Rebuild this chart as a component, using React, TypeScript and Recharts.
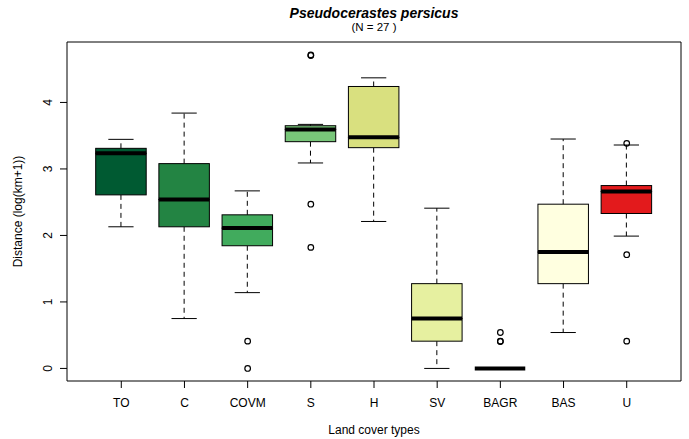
import { ComposedChart, Bar, Scatter, XAxis, YAxis } from "recharts"

// land cover types on the x axis
const categories = ["TO", "C", "COVM", "S", "H", "SV", "BAGR", "BAS", "U"]

// five-number summaries (log(km+1))
const whiskerLow = [2.13, 0.75, 1.14, 3.09, 2.21, 0.0, 0.0, 0.54, 1.99]
const quart1 = [2.61, 2.13, 1.845, 3.41, 3.32, 0.41, 0.0, 1.275, 2.33]
const medians = [3.235, 2.54, 2.11, 3.595, 3.475, 0.75, 0.0, 1.75, 2.66]
const quart3 = [3.31, 3.08, 2.31, 3.65, 4.24, 1.275, 0.0, 2.47, 2.75]
const whiskerHigh = [3.445, 3.84, 2.67, 3.67, 4.37, 2.41, 0.0, 3.45, 3.36]
const outliers: number[][] = [
  [],
  [],
  [0.41, 0.0],
  [4.715, 4.705, 2.47, 1.82],
  [],
  [],
  [0.54, 0.41, 0.405],
  [],
  [3.385, 1.71, 0.41],
]
const yTicks = [0, 1, 2, 3, 4]

const palette = ["#005a32", "#238443", "#41ab5d", "#78c679", "#d9e07f", "#e6f0a0", "#ffffe0", "#ffffe0", "#e31a1c"]
const FONT = '"Liberation Sans", Arial, Helvetica, sans-serif'
const MAX_OUT = 4

const data = categories.map((name, i) => {
  const row: Record<string, string | number | null> = {
    name,
    base: whiskerLow[i],
    wLow: quart1[i] - whiskerLow[i],
    bLow: medians[i] - quart1[i],
    bHigh: quart3[i] - medians[i],
    wHigh: whiskerHigh[i] - quart3[i],
  }
  for (let k = 0; k < MAX_OUT; k++) row["o" + k] = outliers[i][k] ?? null
  return row
})

function span(p: any) {
  const top = Math.min(p.y, p.y + p.height)
  const bot = Math.max(p.y, p.y + p.height)
  return { top, bot, cx: p.x + p.width / 2 }
}

function LowWhisker(p: any) {
  const { top, bot, cx } = span(p)
  return (
    <g>
      <line x1={cx} x2={cx} y1={top} y2={bot} stroke="#000" strokeDasharray="5 4" />
      <line x1={cx - p.width / 4} x2={cx + p.width / 4} y1={bot} y2={bot} stroke="#000" />
    </g>
  )
}

function HighWhisker(p: any) {
  const { top, bot, cx } = span(p)
  return (
    <g>
      <line x1={cx} x2={cx} y1={bot} y2={top} stroke="#000" strokeDasharray="5 4" />
      <line x1={cx - p.width / 4} x2={cx + p.width / 4} y1={top} y2={top} stroke="#000" />
    </g>
  )
}

function LowerBox(p: any) {
  const { top, bot } = span(p)
  return <rect x={p.x} y={top} width={p.width} height={bot - top} fill={palette[p.index]} stroke="#000" />
}

function UpperBox(p: any) {
  const { top, bot } = span(p)
  return (
    <g>
      <rect x={p.x} y={top} width={p.width} height={bot - top} fill={palette[p.index]} stroke="#000" />
      <line x1={p.x} x2={p.x + p.width} y1={bot} y2={bot} stroke="#000" strokeWidth={4} />
    </g>
  )
}

function OutlierDot(p: any) {
  if (p.cx == null || p.cy == null || !isFinite(p.cx) || !isFinite(p.cy)) return <g />
  return <circle cx={p.cx} cy={p.cy} r={2.8} fill="none" stroke="#000" strokeWidth={1.2} />
}

function YTick(p: any) {
  const x = p.x - 8
  return (
    <text x={x} y={p.y} transform={`rotate(-90 ${x} ${p.y})`} textAnchor="middle" fontSize={12} fontFamily={FONT} fill="#000">
      {p.payload.value}
    </text>
  )
}

function XTick(p: any) {
  return (
    <text x={p.x} y={p.y + 19} textAnchor="middle" fontSize={12} fontFamily={FONT} fill="#000">
      {p.payload.value}
    </text>
  )
}

export default function App() {
  return (
    <div style={{ position: "absolute", left: 0, top: 0, width: 689, height: 439, background: "#fff", fontFamily: FONT }}>
      <ComposedChart width={689} height={439} data={data} margin={{ top: 41, right: 7, bottom: 28, left: 37 }}>
        <XAxis
          dataKey="name"
          type="category"
          height={30}
          padding={{ left: 22.7, right: 22.7 }}
          tickSize={7}
          tickMargin={0}
          axisLine={{ stroke: "#000" }}
          tickLine={{ stroke: "#000" }}
          tick={<XTick />}
          interval={0}
        />
        <XAxis
          xAxisId="top"
          dataKey="name"
          orientation="top"
          height={1}
          padding={{ left: 22.7, right: 22.7 }}
          tick={false}
          tickLine={false}
          axisLine={{ stroke: "#000" }}
        />
        <YAxis
          type="number"
          domain={[-0.189, 4.909]}
          allowDataOverflow
          ticks={yTicks}
          width={30}
          tickSize={7}
          tickMargin={0}
          axisLine={{ stroke: "#000" }}
          tickLine={{ stroke: "#000" }}
          tick={<YTick />}
        />
        <YAxis
          yAxisId="right"
          orientation="right"
          type="number"
          domain={[-0.189, 4.909]}
          allowDataOverflow
          ticks={yTicks}
          width={1}
          tick={false}
          tickLine={false}
          axisLine={{ stroke: "#000" }}
        />
        <Bar dataKey="base" stackId="box" barSize={50.5} shape={() => <g />} isAnimationActive={false} />
        <Bar dataKey="wLow" stackId="box" barSize={50.5} shape={<LowWhisker />} isAnimationActive={false} />
        <Bar dataKey="bLow" stackId="box" barSize={50.5} shape={<LowerBox />} isAnimationActive={false} />
        <Bar dataKey="bHigh" stackId="box" barSize={50.5} shape={<UpperBox />} isAnimationActive={false} />
        <Bar dataKey="wHigh" stackId="box" barSize={50.5} shape={<HighWhisker />} isAnimationActive={false} />
        {Array.from({ length: MAX_OUT }, (_, k) => (
          <Scatter key={k} dataKey={"o" + k} shape={<OutlierDot />} isAnimationActive={false} />
        ))}
      </ComposedChart>
      <svg width={689} height={439} style={{ position: "absolute", left: 0, top: 0, pointerEvents: "none" }}>
        <text x={374} y={18} textAnchor="middle" fontSize={14} fontWeight="bold" fontStyle="italic" fontFamily={FONT}>
          Pseudocerastes persicus
        </text>
        <text x={374} y={31} textAnchor="middle" fontSize={11.5} fontFamily={FONT}>
          (N = 27 )
        </text>
        <text x={374} y={434} textAnchor="middle" fontSize={12} fontFamily={FONT}>
          Land cover types
        </text>
        <text x={22} y={211.5} transform="rotate(-90 22 211.5)" textAnchor="middle" fontSize={12} fontFamily={FONT}>
          Distance (log(km+1))
        </text>
      </svg>
    </div>
  )
}
